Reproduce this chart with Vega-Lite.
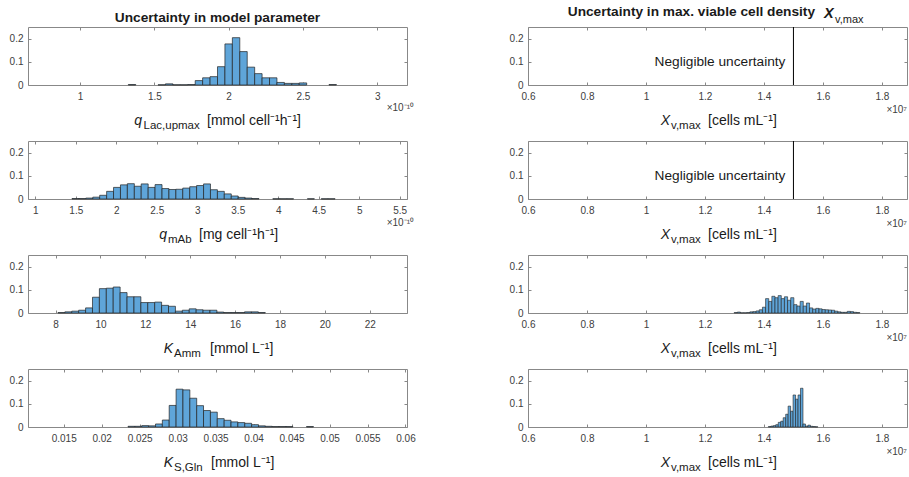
{
 "$schema": "https://vega.github.io/schema/vega-lite/v6.json",
 "background": "white",
 "padding": {"left": 8, "top": 4, "right": 0, "bottom": 0},
 "autosize": {"type": "pad"},
 "columns": 2,
 "bounds": "flush",
 "spacing": {"row": 56, "column": 121},
 "datasets": {
  "p1": [
   {"a":1.325,"b":1.375,"p":0.002},{"a":1.525,"b":1.575,"p":0.001},{"a":1.575,"b":1.625,"p":0.005},{"a":1.625,"b":1.675,"p":0.001},{"a":1.675,"b":1.725,"p":0.001},{"a":1.725,"b":1.775,"p":0.002},{"a":1.775,"b":1.825,"p":0.019},{"a":1.825,"b":1.875,"p":0.031},{"a":1.875,"b":1.925,"p":0.036},{"a":1.925,"b":1.975,"p":0.079},{"a":1.975,"b":2.025,"p":0.177},{"a":2.025,"b":2.075,"p":0.204},{"a":2.075,"b":2.125,"p":0.144},{"a":2.125,"b":2.175,"p":0.077},{"a":2.175,"b":2.225,"p":0.049},{"a":2.225,"b":2.275,"p":0.031},{"a":2.275,"b":2.325,"p":0.031},{"a":2.325,"b":2.375,"p":0.011},{"a":2.375,"b":2.425,"p":0.007},{"a":2.425,"b":2.475,"p":0.007},{"a":2.475,"b":2.525,"p":0.009},{"a":2.675,"b":2.725,"p":0.002}
  ],
  "p2": [
   {"a":1.453,"b":1.539,"p":0.002},{"a":1.539,"b":1.624,"p":0.002},{"a":1.624,"b":1.710,"p":0.004},{"a":1.710,"b":1.795,"p":0.008},{"a":1.795,"b":1.881,"p":0.016},{"a":1.881,"b":1.966,"p":0.033},{"a":1.966,"b":2.052,"p":0.050},{"a":2.052,"b":2.137,"p":0.061},{"a":2.137,"b":2.223,"p":0.066},{"a":2.223,"b":2.308,"p":0.055},{"a":2.308,"b":2.394,"p":0.065},{"a":2.394,"b":2.479,"p":0.050},{"a":2.479,"b":2.565,"p":0.062},{"a":2.565,"b":2.650,"p":0.045},{"a":2.650,"b":2.736,"p":0.041},{"a":2.736,"b":2.821,"p":0.042},{"a":2.821,"b":2.907,"p":0.047},{"a":2.907,"b":2.992,"p":0.053},{"a":2.992,"b":3.078,"p":0.058},{"a":3.078,"b":3.163,"p":0.065},{"a":3.163,"b":3.249,"p":0.040},{"a":3.249,"b":3.334,"p":0.033},{"a":3.334,"b":3.420,"p":0.022},{"a":3.420,"b":3.505,"p":0.013},{"a":3.505,"b":3.591,"p":0.007},{"a":3.591,"b":3.676,"p":0.004},{"a":3.676,"b":3.762,"p":0.002},{"a":3.933,"b":4.018,"p":0.001},{"a":4.018,"b":4.104,"p":0.001},{"a":4.104,"b":4.189,"p":0.001},{"a":4.360,"b":4.446,"p":0.001},{"a":4.531,"b":4.617,"p":0.001},{"a":4.617,"b":4.702,"p":0.001}
  ],
  "p3": [
   {"a":8.104,"b":8.412,"p":0.002},{"a":8.412,"b":8.72,"p":0.005},{"a":8.72,"b":9.028,"p":0.008},{"a":9.028,"b":9.336,"p":0.012},{"a":9.336,"b":9.644,"p":0.022},{"a":9.644,"b":9.952,"p":0.068},{"a":9.952,"b":10.26,"p":0.105},{"a":10.26,"b":10.568,"p":0.107},{"a":10.568,"b":10.876,"p":0.112},{"a":10.876,"b":11.184,"p":0.088},{"a":11.184,"b":11.492,"p":0.07},{"a":11.492,"b":11.8,"p":0.07},{"a":11.8,"b":12.108,"p":0.045},{"a":12.108,"b":12.416,"p":0.045},{"a":12.416,"b":12.724,"p":0.047},{"a":12.724,"b":13.032,"p":0.033},{"a":13.032,"b":13.34,"p":0.029},{"a":13.34,"b":13.648,"p":0.008},{"a":13.648,"b":13.956,"p":0.012},{"a":13.956,"b":14.264,"p":0.018},{"a":14.264,"b":14.572,"p":0.014},{"a":14.572,"b":14.88,"p":0.012},{"a":14.88,"b":15.188,"p":0.012},{"a":15.188,"b":15.496,"p":0.004},{"a":15.496,"b":15.804,"p":0.002},{"a":15.804,"b":16.112,"p":0.002},{"a":16.112,"b":16.42,"p":0.002},{"a":16.42,"b":16.728,"p":0.005},{"a":16.728,"b":17.036,"p":0.005},{"a":17.036,"b":17.344,"p":0.002}
  ],
  "p4": [
   {"a":0.02347,"b":0.02437,"p":0.003},{"a":0.02437,"b":0.02528,"p":0.003},{"a":0.02528,"b":0.02618,"p":0.006},{"a":0.02618,"b":0.02709,"p":0.005},{"a":0.02709,"b":0.02799,"p":0.013},{"a":0.02799,"b":0.02889,"p":0.030},{"a":0.02889,"b":0.02980,"p":0.093},{"a":0.02980,"b":0.03070,"p":0.163},{"a":0.03070,"b":0.03161,"p":0.160},{"a":0.03161,"b":0.03251,"p":0.124},{"a":0.03251,"b":0.03341,"p":0.092},{"a":0.03341,"b":0.03432,"p":0.071},{"a":0.03432,"b":0.03522,"p":0.064},{"a":0.03522,"b":0.03613,"p":0.036},{"a":0.03613,"b":0.03703,"p":0.029},{"a":0.03703,"b":0.03793,"p":0.022},{"a":0.03793,"b":0.03884,"p":0.019},{"a":0.03884,"b":0.03974,"p":0.016},{"a":0.03974,"b":0.04065,"p":0.010},{"a":0.04065,"b":0.04155,"p":0.005},{"a":0.04155,"b":0.04245,"p":0.003},{"a":0.04245,"b":0.04336,"p":0.002},{"a":0.04336,"b":0.04426,"p":0.002},{"a":0.04426,"b":0.04517,"p":0.002},{"a":0.04697,"b":0.04788,"p":0.002}
  ],
  "r3": [
   {"a":1.299,"b":1.3097,"p":0.002},{"a":1.3097,"b":1.3203,"p":0.004},{"a":1.3203,"b":1.331,"p":0.001},{"a":1.331,"b":1.3416,"p":0.001},{"a":1.3416,"b":1.3523,"p":0.002},{"a":1.3523,"b":1.3629,"p":0.005},{"a":1.3629,"b":1.3736,"p":0.006},{"a":1.3736,"b":1.3842,"p":0.009},{"a":1.3842,"b":1.3949,"p":0.014},{"a":1.3949,"b":1.4055,"p":0.025},{"a":1.4055,"b":1.4162,"p":0.062},{"a":1.4162,"b":1.4268,"p":0.050},{"a":1.4268,"b":1.4375,"p":0.072},{"a":1.4375,"b":1.4481,"p":0.066},{"a":1.4481,"b":1.4588,"p":0.075},{"a":1.4588,"b":1.4694,"p":0.062},{"a":1.4694,"b":1.4801,"p":0.070},{"a":1.4801,"b":1.4907,"p":0.055},{"a":1.4907,"b":1.5014,"p":0.066},{"a":1.5014,"b":1.512,"p":0.036},{"a":1.512,"b":1.5227,"p":0.030},{"a":1.5227,"b":1.5333,"p":0.050},{"a":1.5333,"b":1.544,"p":0.030},{"a":1.544,"b":1.5546,"p":0.043},{"a":1.5546,"b":1.5653,"p":0.022},{"a":1.5653,"b":1.5759,"p":0.017},{"a":1.5759,"b":1.5866,"p":0.020},{"a":1.5866,"b":1.5972,"p":0.018},{"a":1.5972,"b":1.6079,"p":0.015},{"a":1.6079,"b":1.6185,"p":0.014},{"a":1.6185,"b":1.6292,"p":0.013},{"a":1.6292,"b":1.6398,"p":0.012},{"a":1.6398,"b":1.6505,"p":0.008},{"a":1.6505,"b":1.6611,"p":0.005},{"a":1.6611,"b":1.6718,"p":0.003},{"a":1.6718,"b":1.6824,"p":0.003},{"a":1.6824,"b":1.6931,"p":0.007},{"a":1.6931,"b":1.7037,"p":0.006},{"a":1.7037,"b":1.7144,"p":0.003},{"a":1.7144,"b":1.725,"p":0.002}
  ],
  "r4": [
   {"a":1.415,"b":1.4234,"p":0.002},{"a":1.4234,"b":1.4318,"p":0.004},{"a":1.4318,"b":1.4401,"p":0.006},{"a":1.4401,"b":1.4485,"p":0.010},{"a":1.4485,"b":1.4569,"p":0.020},{"a":1.4569,"b":1.4653,"p":0.025},{"a":1.4653,"b":1.4737,"p":0.040},{"a":1.4737,"b":1.482,"p":0.055},{"a":1.482,"b":1.4904,"p":0.090},{"a":1.4904,"b":1.4988,"p":0.068},{"a":1.4988,"b":1.5072,"p":0.138},{"a":1.5072,"b":1.5156,"p":0.120},{"a":1.5156,"b":1.5239,"p":0.138},{"a":1.5239,"b":1.5323,"p":0.167},{"a":1.5323,"b":1.5407,"p":0.013},{"a":1.5407,"b":1.5491,"p":0.004},{"a":1.5491,"b":1.5575,"p":0.008},{"a":1.5575,"b":1.5658,"p":0.003},{"a":1.5658,"b":1.5742,"p":0.002},{"a":1.5742,"b":1.5826,"p":0.001}
  ]
 },
 "concat": [
  {
   "width": 379, "height": 58,
   "resolve": {"axis": {"x": "independent", "y": "independent"}},
   "layer": [
    {"data": {"name": "p1"}, "mark": {"type": "bar", "fill": "#5fa5d9", "stroke": "#222222", "strokeWidth": 0.7},
     "encoding": {
      "x": {"field": "a", "type": "quantitative", "scale": {"domain": [0.65, 3.2], "nice": false, "zero": false}, "axis": {"orient": "bottom", "values": [1, 1.5, 2, 2.5, 3], "format": "~g", "title": null}},
      "x2": {"field": "b"},
      "y": {"field": "p", "type": "quantitative", "scale": {"domain": [0, 0.25], "nice": false, "zero": false}, "axis": {"orient": "left", "values": [0, 0.1, 0.2], "format": "~g", "title": null}},
      "y2": {"datum": 0}}},
    {"data": {"values": [{}]}, "mark": {"type": "text", "text": ""},
     "encoding": {
      "x": {"datum": 1.925, "type": "quantitative", "scale": {"domain": [0.65, 3.2], "nice": false, "zero": false}, "axis": {"orient": "top", "values": [1, 1.5, 2, 2.5, 3], "labels": false, "title": null}},
      "y": {"datum": 0, "type": "quantitative", "scale": {"domain": [0, 0.25], "nice": false, "zero": false}, "axis": {"orient": "right", "values": [0, 0.1, 0.2], "labels": false, "title": null}}}},
    {"data": {"values": [{}]}, "mark": {"type": "text", "text": "Uncertainty in model parameter", "fontWeight": "bold", "fontSize": 13.7, "align": "center", "dy": -5},
     "encoding": {"x": {"datum": 1.925, "type": "quantitative", "scale": {"domain": [0.65, 3.2], "nice": false, "zero": false}, "axis": null}, "y": {"datum": 0.25, "type": "quantitative", "scale": {"domain": [0, 0.25], "nice": false, "zero": false}, "axis": null}}},
    {"data": {"values": [{}]}, "mark": {"type": "text", "text": "q", "fontStyle": "italic", "fontSize": 14, "align": "right", "dx": -75.5, "dy": 40},
     "encoding": {"x": {"datum": 1.925, "type": "quantitative", "scale": {"domain": [0.65, 3.2], "nice": false, "zero": false}, "axis": null}, "y": {"datum": 0, "type": "quantitative", "scale": {"domain": [0, 0.25], "nice": false, "zero": false}, "axis": null}}},
    {"data": {"values": [{}]}, "mark": {"type": "text", "text": "Lac,upmax", "fontSize": 11.5, "align": "left", "dx": -74, "dy": 44},
     "encoding": {"x": {"datum": 1.925, "type": "quantitative", "scale": {"domain": [0.65, 3.2], "nice": false, "zero": false}, "axis": null}, "y": {"datum": 0, "type": "quantitative", "scale": {"domain": [0, 0.25], "nice": false, "zero": false}, "axis": null}}},
    {"data": {"values": [{}]}, "mark": {"type": "text", "text": "[mmol cell⁻¹h⁻¹]", "fontSize": 14, "align": "left", "dx": -10.5, "dy": 40},
     "encoding": {"x": {"datum": 1.925, "type": "quantitative", "scale": {"domain": [0.65, 3.2], "nice": false, "zero": false}, "axis": null}, "y": {"datum": 0, "type": "quantitative", "scale": {"domain": [0, 0.25], "nice": false, "zero": false}, "axis": null}}},
    {"data": {"values": [{}]}, "mark": {"type": "text", "text": "×10⁻¹⁰", "fontSize": 10, "color": "#404040", "align": "right", "dx": 7, "dy": 26},
     "encoding": {"x": {"datum": 3.2, "type": "quantitative", "scale": {"domain": [0.65, 3.2], "nice": false, "zero": false}, "axis": null}, "y": {"datum": 0, "type": "quantitative", "scale": {"domain": [0, 0.25], "nice": false, "zero": false}, "axis": null}}}
   ]
  },
  {
   "width": 379, "height": 58,
   "resolve": {"axis": {"x": "independent", "y": "independent"}},
   "layer": [
    {"data": {"values": [{}]}, "mark": {"type": "rule", "color": "#000000", "strokeWidth": 1},
     "encoding": {
      "x": {"datum": 1.5, "type": "quantitative", "scale": {"domain": [0.6, 1.885], "nice": false, "zero": false}, "axis": {"orient": "bottom", "values": [0.6, 0.8, 1, 1.2, 1.4, 1.6, 1.8], "format": "~g", "title": null}},
      "y": {"datum": 0, "type": "quantitative", "scale": {"domain": [0, 0.25], "nice": false, "zero": false}, "axis": {"orient": "left", "values": [0, 0.1, 0.2], "format": "~g", "title": null}},
      "y2": {"datum": 0.25}}},
    {"data": {"values": [{}]}, "mark": {"type": "text", "text": ""},
     "encoding": {
      "x": {"datum": 1.2425, "type": "quantitative", "scale": {"domain": [0.6, 1.885], "nice": false, "zero": false}, "axis": {"orient": "top", "values": [0.6, 0.8, 1, 1.2, 1.4, 1.6, 1.8], "labels": false, "title": null}},
      "y": {"datum": 0, "type": "quantitative", "scale": {"domain": [0, 0.25], "nice": false, "zero": false}, "axis": {"orient": "right", "values": [0, 0.1, 0.2], "labels": false, "title": null}}}},
    {"data": {"values": [{}]}, "mark": {"type": "text", "text": "Negligible uncertainty", "fontSize": 13.7, "align": "right", "baseline": "middle", "dx": -8},
     "encoding": {"x": {"datum": 1.5, "type": "quantitative", "scale": {"domain": [0.6, 1.885], "nice": false, "zero": false}, "axis": null}, "y": {"datum": 0.1, "type": "quantitative", "scale": {"domain": [0, 0.25], "nice": false, "zero": false}, "axis": null}}},
    {"data": {"values": [{}]}, "mark": {"type": "text", "text": "Uncertainty in max. viable cell density", "fontWeight": "bold", "fontSize": 13.7, "align": "right", "dx": 97.5, "dy": -11.5},
     "encoding": {"x": {"datum": 1.2425, "type": "quantitative", "scale": {"domain": [0.6, 1.885], "nice": false, "zero": false}, "axis": null}, "y": {"datum": 0.25, "type": "quantitative", "scale": {"domain": [0, 0.25], "nice": false, "zero": false}, "axis": null}}},
    {"data": {"values": [{}]}, "mark": {"type": "text", "text": "X", "fontWeight": "bold", "fontStyle": "italic", "fontSize": 14.5, "align": "left", "dx": 106.5, "dy": -9.5},
     "encoding": {"x": {"datum": 1.2425, "type": "quantitative", "scale": {"domain": [0.6, 1.885], "nice": false, "zero": false}, "axis": null}, "y": {"datum": 0.25, "type": "quantitative", "scale": {"domain": [0, 0.25], "nice": false, "zero": false}, "axis": null}}},
    {"data": {"values": [{}]}, "mark": {"type": "text", "text": "v,max", "fontSize": 11, "align": "left", "dx": 117.5, "dy": -4.5},
     "encoding": {"x": {"datum": 1.2425, "type": "quantitative", "scale": {"domain": [0.6, 1.885], "nice": false, "zero": false}, "axis": null}, "y": {"datum": 0.25, "type": "quantitative", "scale": {"domain": [0, 0.25], "nice": false, "zero": false}, "axis": null}}},
    {"data": {"values": [{}]}, "mark": {"type": "text", "text": "X", "fontStyle": "italic", "fontSize": 14, "align": "right", "dx": -47.5, "dy": 40},
     "encoding": {"x": {"datum": 1.2425, "type": "quantitative", "scale": {"domain": [0.6, 1.885], "nice": false, "zero": false}, "axis": null}, "y": {"datum": 0, "type": "quantitative", "scale": {"domain": [0, 0.25], "nice": false, "zero": false}, "axis": null}}},
    {"data": {"values": [{}]}, "mark": {"type": "text", "text": "v,max", "fontSize": 11.5, "align": "left", "dx": -46.5, "dy": 44},
     "encoding": {"x": {"datum": 1.2425, "type": "quantitative", "scale": {"domain": [0.6, 1.885], "nice": false, "zero": false}, "axis": null}, "y": {"datum": 0, "type": "quantitative", "scale": {"domain": [0, 0.25], "nice": false, "zero": false}, "axis": null}}},
    {"data": {"values": [{}]}, "mark": {"type": "text", "text": "[cells mL⁻¹]", "fontSize": 14, "align": "left", "dx": -9.5, "dy": 40},
     "encoding": {"x": {"datum": 1.2425, "type": "quantitative", "scale": {"domain": [0.6, 1.885], "nice": false, "zero": false}, "axis": null}, "y": {"datum": 0, "type": "quantitative", "scale": {"domain": [0, 0.25], "nice": false, "zero": false}, "axis": null}}},
    {"data": {"values": [{}]}, "mark": {"type": "text", "text": "×10⁷", "fontSize": 10, "color": "#404040", "align": "right", "dx": 0, "dy": 28},
     "encoding": {"x": {"datum": 1.885, "type": "quantitative", "scale": {"domain": [0.6, 1.885], "nice": false, "zero": false}, "axis": null}, "y": {"datum": 0, "type": "quantitative", "scale": {"domain": [0, 0.25], "nice": false, "zero": false}, "axis": null}}}
   ]
  },
  {
   "width": 379, "height": 58,
   "resolve": {"axis": {"x": "independent", "y": "independent"}},
   "layer": [
    {"data": {"name": "p2"}, "mark": {"type": "bar", "fill": "#5fa5d9", "stroke": "#222222", "strokeWidth": 0.7},
     "encoding": {
      "x": {"field": "a", "type": "quantitative", "scale": {"domain": [0.91, 5.59], "nice": false, "zero": false}, "axis": {"orient": "bottom", "values": [1, 1.5, 2, 2.5, 3, 3.5, 4, 4.5, 5, 5.5], "format": "~g", "title": null}},
      "x2": {"field": "b"},
      "y": {"field": "p", "type": "quantitative", "scale": {"domain": [0, 0.25], "nice": false, "zero": false}, "axis": {"orient": "left", "values": [0, 0.1, 0.2], "format": "~g", "title": null}},
      "y2": {"datum": 0}}},
    {"data": {"values": [{}]}, "mark": {"type": "text", "text": ""},
     "encoding": {
      "x": {"datum": 3.25, "type": "quantitative", "scale": {"domain": [0.91, 5.59], "nice": false, "zero": false}, "axis": {"orient": "top", "values": [1, 1.5, 2, 2.5, 3, 3.5, 4, 4.5, 5, 5.5], "labels": false, "title": null}},
      "y": {"datum": 0, "type": "quantitative", "scale": {"domain": [0, 0.25], "nice": false, "zero": false}, "axis": {"orient": "right", "values": [0, 0.1, 0.2], "labels": false, "title": null}}}},
    {"data": {"values": [{}]}, "mark": {"type": "text", "text": "q", "fontStyle": "italic", "fontSize": 14, "align": "right", "dx": -50.5, "dy": 40},
     "encoding": {"x": {"datum": 3.25, "type": "quantitative", "scale": {"domain": [0.91, 5.59], "nice": false, "zero": false}, "axis": null}, "y": {"datum": 0, "type": "quantitative", "scale": {"domain": [0, 0.25], "nice": false, "zero": false}, "axis": null}}},
    {"data": {"values": [{}]}, "mark": {"type": "text", "text": "mAb", "fontSize": 11.5, "align": "left", "dx": -49.5, "dy": 44},
     "encoding": {"x": {"datum": 3.25, "type": "quantitative", "scale": {"domain": [0.91, 5.59], "nice": false, "zero": false}, "axis": null}, "y": {"datum": 0, "type": "quantitative", "scale": {"domain": [0, 0.25], "nice": false, "zero": false}, "axis": null}}},
    {"data": {"values": [{}]}, "mark": {"type": "text", "text": "[mg cell⁻¹h⁻¹]", "fontSize": 14, "align": "left", "dx": -18.5, "dy": 40},
     "encoding": {"x": {"datum": 3.25, "type": "quantitative", "scale": {"domain": [0.91, 5.59], "nice": false, "zero": false}, "axis": null}, "y": {"datum": 0, "type": "quantitative", "scale": {"domain": [0, 0.25], "nice": false, "zero": false}, "axis": null}}},
    {"data": {"values": [{}]}, "mark": {"type": "text", "text": "×10⁻¹⁰", "fontSize": 10, "color": "#404040", "align": "right", "dx": 7, "dy": 27},
     "encoding": {"x": {"datum": 5.59, "type": "quantitative", "scale": {"domain": [0.91, 5.59], "nice": false, "zero": false}, "axis": null}, "y": {"datum": 0, "type": "quantitative", "scale": {"domain": [0, 0.25], "nice": false, "zero": false}, "axis": null}}}
   ]
  },
  {
   "width": 379, "height": 58,
   "resolve": {"axis": {"x": "independent", "y": "independent"}},
   "layer": [
    {"data": {"values": [{}]}, "mark": {"type": "rule", "color": "#000000", "strokeWidth": 1},
     "encoding": {
      "x": {"datum": 1.5, "type": "quantitative", "scale": {"domain": [0.6, 1.885], "nice": false, "zero": false}, "axis": {"orient": "bottom", "values": [0.6, 0.8, 1, 1.2, 1.4, 1.6, 1.8], "format": "~g", "title": null}},
      "y": {"datum": 0, "type": "quantitative", "scale": {"domain": [0, 0.25], "nice": false, "zero": false}, "axis": {"orient": "left", "values": [0, 0.1, 0.2], "format": "~g", "title": null}},
      "y2": {"datum": 0.25}}},
    {"data": {"values": [{}]}, "mark": {"type": "text", "text": ""},
     "encoding": {
      "x": {"datum": 1.2425, "type": "quantitative", "scale": {"domain": [0.6, 1.885], "nice": false, "zero": false}, "axis": {"orient": "top", "values": [0.6, 0.8, 1, 1.2, 1.4, 1.6, 1.8], "labels": false, "title": null}},
      "y": {"datum": 0, "type": "quantitative", "scale": {"domain": [0, 0.25], "nice": false, "zero": false}, "axis": {"orient": "right", "values": [0, 0.1, 0.2], "labels": false, "title": null}}}},
    {"data": {"values": [{}]}, "mark": {"type": "text", "text": "Negligible uncertainty", "fontSize": 13.7, "align": "right", "baseline": "middle", "dx": -8},
     "encoding": {"x": {"datum": 1.5, "type": "quantitative", "scale": {"domain": [0.6, 1.885], "nice": false, "zero": false}, "axis": null}, "y": {"datum": 0.1, "type": "quantitative", "scale": {"domain": [0, 0.25], "nice": false, "zero": false}, "axis": null}}},
    {"data": {"values": [{}]}, "mark": {"type": "text", "text": "X", "fontStyle": "italic", "fontSize": 14, "align": "right", "dx": -47.5, "dy": 40},
     "encoding": {"x": {"datum": 1.2425, "type": "quantitative", "scale": {"domain": [0.6, 1.885], "nice": false, "zero": false}, "axis": null}, "y": {"datum": 0, "type": "quantitative", "scale": {"domain": [0, 0.25], "nice": false, "zero": false}, "axis": null}}},
    {"data": {"values": [{}]}, "mark": {"type": "text", "text": "v,max", "fontSize": 11.5, "align": "left", "dx": -46.5, "dy": 44},
     "encoding": {"x": {"datum": 1.2425, "type": "quantitative", "scale": {"domain": [0.6, 1.885], "nice": false, "zero": false}, "axis": null}, "y": {"datum": 0, "type": "quantitative", "scale": {"domain": [0, 0.25], "nice": false, "zero": false}, "axis": null}}},
    {"data": {"values": [{}]}, "mark": {"type": "text", "text": "[cells mL⁻¹]", "fontSize": 14, "align": "left", "dx": -9.5, "dy": 40},
     "encoding": {"x": {"datum": 1.2425, "type": "quantitative", "scale": {"domain": [0.6, 1.885], "nice": false, "zero": false}, "axis": null}, "y": {"datum": 0, "type": "quantitative", "scale": {"domain": [0, 0.25], "nice": false, "zero": false}, "axis": null}}},
    {"data": {"values": [{}]}, "mark": {"type": "text", "text": "×10⁷", "fontSize": 10, "color": "#404040", "align": "right", "dx": 0, "dy": 28},
     "encoding": {"x": {"datum": 1.885, "type": "quantitative", "scale": {"domain": [0.6, 1.885], "nice": false, "zero": false}, "axis": null}, "y": {"datum": 0, "type": "quantitative", "scale": {"domain": [0, 0.25], "nice": false, "zero": false}, "axis": null}}}
   ]
  },
  {
   "width": 379, "height": 58,
   "resolve": {"axis": {"x": "independent", "y": "independent"}},
   "layer": [
    {"data": {"name": "p3"}, "mark": {"type": "bar", "fill": "#5fa5d9", "stroke": "#222222", "strokeWidth": 0.7},
     "encoding": {
      "x": {"field": "a", "type": "quantitative", "scale": {"domain": [6.77, 23.66], "nice": false, "zero": false}, "axis": {"orient": "bottom", "values": [8, 10, 12, 14, 16, 18, 20, 22], "format": "~g", "title": null}},
      "x2": {"field": "b"},
      "y": {"field": "p", "type": "quantitative", "scale": {"domain": [0, 0.25], "nice": false, "zero": false}, "axis": {"orient": "left", "values": [0, 0.1, 0.2], "format": "~g", "title": null}},
      "y2": {"datum": 0}}},
    {"data": {"values": [{}]}, "mark": {"type": "text", "text": ""},
     "encoding": {
      "x": {"datum": 15.215, "type": "quantitative", "scale": {"domain": [6.77, 23.66], "nice": false, "zero": false}, "axis": {"orient": "top", "values": [8, 10, 12, 14, 16, 18, 20, 22], "labels": false, "title": null}},
      "y": {"datum": 0, "type": "quantitative", "scale": {"domain": [0, 0.25], "nice": false, "zero": false}, "axis": {"orient": "right", "values": [0, 0.1, 0.2], "labels": false, "title": null}}}},
    {"data": {"values": [{}]}, "mark": {"type": "text", "text": "K", "fontStyle": "italic", "fontSize": 14, "align": "right", "dx": -44.5, "dy": 40},
     "encoding": {"x": {"datum": 15.215, "type": "quantitative", "scale": {"domain": [6.77, 23.66], "nice": false, "zero": false}, "axis": null}, "y": {"datum": 0, "type": "quantitative", "scale": {"domain": [0, 0.25], "nice": false, "zero": false}, "axis": null}}},
    {"data": {"values": [{}]}, "mark": {"type": "text", "text": "Amm", "fontSize": 11.5, "align": "left", "dx": -43.5, "dy": 44},
     "encoding": {"x": {"datum": 15.215, "type": "quantitative", "scale": {"domain": [6.77, 23.66], "nice": false, "zero": false}, "axis": null}, "y": {"datum": 0, "type": "quantitative", "scale": {"domain": [0, 0.25], "nice": false, "zero": false}, "axis": null}}},
    {"data": {"values": [{}]}, "mark": {"type": "text", "text": "[mmol L⁻¹]", "fontSize": 14, "align": "left", "dx": -7.5, "dy": 40},
     "encoding": {"x": {"datum": 15.215, "type": "quantitative", "scale": {"domain": [6.77, 23.66], "nice": false, "zero": false}, "axis": null}, "y": {"datum": 0, "type": "quantitative", "scale": {"domain": [0, 0.25], "nice": false, "zero": false}, "axis": null}}}
   ]
  },
  {
   "width": 379, "height": 58,
   "resolve": {"axis": {"x": "independent", "y": "independent"}},
   "layer": [
    {"data": {"name": "r3"}, "mark": {"type": "bar", "fill": "#5fa5d9", "stroke": "#222222", "strokeWidth": 0.6},
     "encoding": {
      "x": {"field": "a", "type": "quantitative", "scale": {"domain": [0.6, 1.885], "nice": false, "zero": false}, "axis": {"orient": "bottom", "values": [0.6, 0.8, 1, 1.2, 1.4, 1.6, 1.8], "format": "~g", "title": null}},
      "x2": {"field": "b"},
      "y": {"field": "p", "type": "quantitative", "scale": {"domain": [0, 0.25], "nice": false, "zero": false}, "axis": {"orient": "left", "values": [0, 0.1, 0.2], "format": "~g", "title": null}},
      "y2": {"datum": 0}}},
    {"data": {"values": [{}]}, "mark": {"type": "text", "text": ""},
     "encoding": {
      "x": {"datum": 1.2425, "type": "quantitative", "scale": {"domain": [0.6, 1.885], "nice": false, "zero": false}, "axis": {"orient": "top", "values": [0.6, 0.8, 1, 1.2, 1.4, 1.6, 1.8], "labels": false, "title": null}},
      "y": {"datum": 0, "type": "quantitative", "scale": {"domain": [0, 0.25], "nice": false, "zero": false}, "axis": {"orient": "right", "values": [0, 0.1, 0.2], "labels": false, "title": null}}}},
    {"data": {"values": [{}]}, "mark": {"type": "text", "text": "X", "fontStyle": "italic", "fontSize": 14, "align": "right", "dx": -47.5, "dy": 40},
     "encoding": {"x": {"datum": 1.2425, "type": "quantitative", "scale": {"domain": [0.6, 1.885], "nice": false, "zero": false}, "axis": null}, "y": {"datum": 0, "type": "quantitative", "scale": {"domain": [0, 0.25], "nice": false, "zero": false}, "axis": null}}},
    {"data": {"values": [{}]}, "mark": {"type": "text", "text": "v,max", "fontSize": 11.5, "align": "left", "dx": -46.5, "dy": 44},
     "encoding": {"x": {"datum": 1.2425, "type": "quantitative", "scale": {"domain": [0.6, 1.885], "nice": false, "zero": false}, "axis": null}, "y": {"datum": 0, "type": "quantitative", "scale": {"domain": [0, 0.25], "nice": false, "zero": false}, "axis": null}}},
    {"data": {"values": [{}]}, "mark": {"type": "text", "text": "[cells mL⁻¹]", "fontSize": 14, "align": "left", "dx": -9.5, "dy": 40},
     "encoding": {"x": {"datum": 1.2425, "type": "quantitative", "scale": {"domain": [0.6, 1.885], "nice": false, "zero": false}, "axis": null}, "y": {"datum": 0, "type": "quantitative", "scale": {"domain": [0, 0.25], "nice": false, "zero": false}, "axis": null}}},
    {"data": {"values": [{}]}, "mark": {"type": "text", "text": "×10⁷", "fontSize": 10, "color": "#404040", "align": "right", "dx": 0, "dy": 28},
     "encoding": {"x": {"datum": 1.885, "type": "quantitative", "scale": {"domain": [0.6, 1.885], "nice": false, "zero": false}, "axis": null}, "y": {"datum": 0, "type": "quantitative", "scale": {"domain": [0, 0.25], "nice": false, "zero": false}, "axis": null}}}
   ]
  },
  {
   "width": 379, "height": 58,
   "resolve": {"axis": {"x": "independent", "y": "independent"}},
   "layer": [
    {"data": {"name": "p4"}, "mark": {"type": "bar", "fill": "#5fa5d9", "stroke": "#222222", "strokeWidth": 0.7},
     "encoding": {
      "x": {"field": "a", "type": "quantitative", "scale": {"domain": [0.0103, 0.0602], "nice": false, "zero": false}, "axis": {"orient": "bottom", "values": [0.015, 0.02, 0.025, 0.03, 0.035, 0.04, 0.045, 0.05, 0.055, 0.06], "format": "~g", "title": null}},
      "x2": {"field": "b"},
      "y": {"field": "p", "type": "quantitative", "scale": {"domain": [0, 0.25], "nice": false, "zero": false}, "axis": {"orient": "left", "values": [0, 0.1, 0.2], "format": "~g", "title": null}},
      "y2": {"datum": 0}}},
    {"data": {"values": [{}]}, "mark": {"type": "text", "text": ""},
     "encoding": {
      "x": {"datum": 0.03525, "type": "quantitative", "scale": {"domain": [0.0103, 0.0602], "nice": false, "zero": false}, "axis": {"orient": "top", "values": [0.015, 0.02, 0.025, 0.03, 0.035, 0.04, 0.045, 0.05, 0.055, 0.06], "labels": false, "title": null}},
      "y": {"datum": 0, "type": "quantitative", "scale": {"domain": [0, 0.25], "nice": false, "zero": false}, "axis": {"orient": "right", "values": [0, 0.1, 0.2], "labels": false, "title": null}}}},
    {"data": {"values": [{}]}, "mark": {"type": "text", "text": "K", "fontStyle": "italic", "fontSize": 14, "align": "right", "dx": -44.5, "dy": 40},
     "encoding": {"x": {"datum": 0.03525, "type": "quantitative", "scale": {"domain": [0.0103, 0.0602], "nice": false, "zero": false}, "axis": null}, "y": {"datum": 0, "type": "quantitative", "scale": {"domain": [0, 0.25], "nice": false, "zero": false}, "axis": null}}},
    {"data": {"values": [{}]}, "mark": {"type": "text", "text": "S,Gln", "fontSize": 11.5, "align": "left", "dx": -43.5, "dy": 44},
     "encoding": {"x": {"datum": 0.03525, "type": "quantitative", "scale": {"domain": [0.0103, 0.0602], "nice": false, "zero": false}, "axis": null}, "y": {"datum": 0, "type": "quantitative", "scale": {"domain": [0, 0.25], "nice": false, "zero": false}, "axis": null}}},
    {"data": {"values": [{}]}, "mark": {"type": "text", "text": "[mmol L⁻¹]", "fontSize": 14, "align": "left", "dx": -6.5, "dy": 40},
     "encoding": {"x": {"datum": 0.03525, "type": "quantitative", "scale": {"domain": [0.0103, 0.0602], "nice": false, "zero": false}, "axis": null}, "y": {"datum": 0, "type": "quantitative", "scale": {"domain": [0, 0.25], "nice": false, "zero": false}, "axis": null}}}
   ]
  },
  {
   "width": 379, "height": 58,
   "resolve": {"axis": {"x": "independent", "y": "independent"}},
   "layer": [
    {"data": {"name": "r4"}, "mark": {"type": "bar", "fill": "#5fa5d9", "stroke": "#222222", "strokeWidth": 0.6},
     "encoding": {
      "x": {"field": "a", "type": "quantitative", "scale": {"domain": [0.6, 1.885], "nice": false, "zero": false}, "axis": {"orient": "bottom", "values": [0.6, 0.8, 1, 1.2, 1.4, 1.6, 1.8], "format": "~g", "title": null}},
      "x2": {"field": "b"},
      "y": {"field": "p", "type": "quantitative", "scale": {"domain": [0, 0.25], "nice": false, "zero": false}, "axis": {"orient": "left", "values": [0, 0.1, 0.2], "format": "~g", "title": null}},
      "y2": {"datum": 0}}},
    {"data": {"values": [{}]}, "mark": {"type": "text", "text": ""},
     "encoding": {
      "x": {"datum": 1.2425, "type": "quantitative", "scale": {"domain": [0.6, 1.885], "nice": false, "zero": false}, "axis": {"orient": "top", "values": [0.6, 0.8, 1, 1.2, 1.4, 1.6, 1.8], "labels": false, "title": null}},
      "y": {"datum": 0, "type": "quantitative", "scale": {"domain": [0, 0.25], "nice": false, "zero": false}, "axis": {"orient": "right", "values": [0, 0.1, 0.2], "labels": false, "title": null}}}},
    {"data": {"values": [{}]}, "mark": {"type": "text", "text": "X", "fontStyle": "italic", "fontSize": 14, "align": "right", "dx": -47.5, "dy": 40},
     "encoding": {"x": {"datum": 1.2425, "type": "quantitative", "scale": {"domain": [0.6, 1.885], "nice": false, "zero": false}, "axis": null}, "y": {"datum": 0, "type": "quantitative", "scale": {"domain": [0, 0.25], "nice": false, "zero": false}, "axis": null}}},
    {"data": {"values": [{}]}, "mark": {"type": "text", "text": "v,max", "fontSize": 11.5, "align": "left", "dx": -46.5, "dy": 44},
     "encoding": {"x": {"datum": 1.2425, "type": "quantitative", "scale": {"domain": [0.6, 1.885], "nice": false, "zero": false}, "axis": null}, "y": {"datum": 0, "type": "quantitative", "scale": {"domain": [0, 0.25], "nice": false, "zero": false}, "axis": null}}},
    {"data": {"values": [{}]}, "mark": {"type": "text", "text": "[cells mL⁻¹]", "fontSize": 14, "align": "left", "dx": -9.5, "dy": 40},
     "encoding": {"x": {"datum": 1.2425, "type": "quantitative", "scale": {"domain": [0.6, 1.885], "nice": false, "zero": false}, "axis": null}, "y": {"datum": 0, "type": "quantitative", "scale": {"domain": [0, 0.25], "nice": false, "zero": false}, "axis": null}}},
    {"data": {"values": [{}]}, "mark": {"type": "text", "text": "×10⁷", "fontSize": 10, "color": "#404040", "align": "right", "dx": 0, "dy": 28},
     "encoding": {"x": {"datum": 1.885, "type": "quantitative", "scale": {"domain": [0.6, 1.885], "nice": false, "zero": false}, "axis": null}, "y": {"datum": 0, "type": "quantitative", "scale": {"domain": [0, 0.25], "nice": false, "zero": false}, "axis": null}}}
   ]
  }
 ],
 "config": {
  "view": {"stroke": "#888888", "strokeWidth": 1},
  "axis": {"domain": false, "grid": false, "ticks": true, "tickSize": -3, "tickColor": "#888888", "tickWidth": 1, "labelFont": "Liberation Sans", "labelFontSize": 10, "labelColor": "#404040", "labelFlush": false, "labelOverlap": false},
  "axisX": {"labelPadding": 9},
  "axisY": {"labelPadding": 8},
  "text": {"font": "Liberation Sans", "color": "#1a1a1a", "baseline": "alphabetic"}
 }
}
